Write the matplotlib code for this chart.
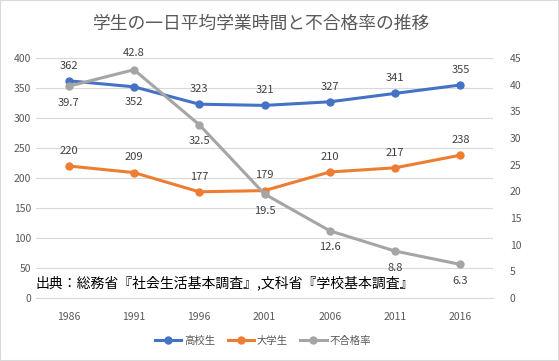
import matplotlib.pyplot as plt
from matplotlib.patches import Rectangle

plt.rcParams['font.family'] = ['Noto Sans CJK JP', 'DejaVu Sans']

years = ['1986', '1991', '1996', '2001', '2006', '2011', '2016']
koukou = [362, 352, 323, 321, 327, 341, 355]
daigaku = [220, 209, 177, 179, 210, 217, 238]
fugoukaku = [39.7, 42.8, 32.5, 19.5, 12.6, 8.8, 6.3]

# label offset: +1 above, -1 below
koukou_pos = [1, -1, 1, 1, 1, 1, 1]
daigaku_pos = [1, 1, 1, 1, 1, 1, 1]
fugoukaku_pos = [-1, 1, -1, -1, -1, -1, -1]

c_blue = '#4472C4'
c_orange = '#ED7D31'
c_gray = '#A5A5A5'
txt = '#595959'

fig = plt.figure(figsize=(5.59, 3.61), dpi=100)
fig.patches.append(Rectangle((0, 0), 1, 1, transform=fig.transFigure,
                             fill=False, edgecolor='#D9D9D9', lw=1.5))
ax = fig.add_axes([36/559, 1-298/361, 457/559, 240/361])
ax2 = ax.twinx()

x = list(range(len(years)))
ax.plot(x, koukou, color=c_blue, lw=2.2, marker='o', ms=5, zorder=3)
ax.plot(x, daigaku, color=c_orange, lw=2.2, marker='o', ms=5, zorder=3)
ax2.plot(x, fugoukaku, color=c_gray, lw=2.2, marker='o', ms=5, zorder=3)

for i in x:
    ax.annotate(str(koukou[i]), (i, koukou[i]), xytext=(0, 11*koukou_pos[i]),
                textcoords='offset points', ha='center', va='center',
                fontsize=8, color='#404040')
    ax.annotate(str(daigaku[i]), (i, daigaku[i]), xytext=(0, 11*daigaku_pos[i]),
                textcoords='offset points', ha='center', va='center',
                fontsize=8, color='#404040')
    ax2.annotate(str(fugoukaku[i]), (i, fugoukaku[i]), xytext=(0, 12*fugoukaku_pos[i]),
                 textcoords='offset points', ha='center', va='center',
                 fontsize=8, color='#404040')

ax.set_xlim(-0.5, 6.5)
ax.set_ylim(0, 400)
ax2.set_ylim(0, 45)
ax.set_yticks(range(0, 401, 50))
ax2.set_yticks(range(0, 46, 5))
ax.set_xticks(x)
ax.set_xticklabels(years)
ax.grid(axis='y', color='#D9D9D9', lw=0.8)
ax.set_axisbelow(True)
for a in (ax, ax2):
    for s in a.spines.values():
        s.set_visible(False)
    a.tick_params(length=0, labelsize=7.5, labelcolor=txt)
ax.spines['bottom'].set_visible(True)
ax.spines['bottom'].set_color('#D9D9D9')
ax.tick_params(axis='x', pad=10)
ax2.tick_params(pad=12)

fig.text(262/559, 1-24/361, '学生の一日平均学業時間と不合格率の推移', ha='center', va='center',
         fontsize=12.8, color=txt)
fig.text(35/559, 1-283/361, '出典：総務省『社会生活基本調査』,文科省『学校基本調査』',
         ha='left', va='center', fontsize=10, color='black')

handles = [plt.Line2D([], [], color=c, lw=2.2, marker='o', ms=5) for c in (c_blue, c_orange, c_gray)]
fig.legend(handles, ['高校生', '大学生', '不合格率'], loc='center', bbox_to_anchor=(263/559, 1-341/361),
           ncol=3, frameon=False, fontsize=7.5, labelcolor=txt, handlelength=2.5,
           columnspacing=1.2, handletextpad=0.3)

plt.savefig('out.png', dpi=100)
